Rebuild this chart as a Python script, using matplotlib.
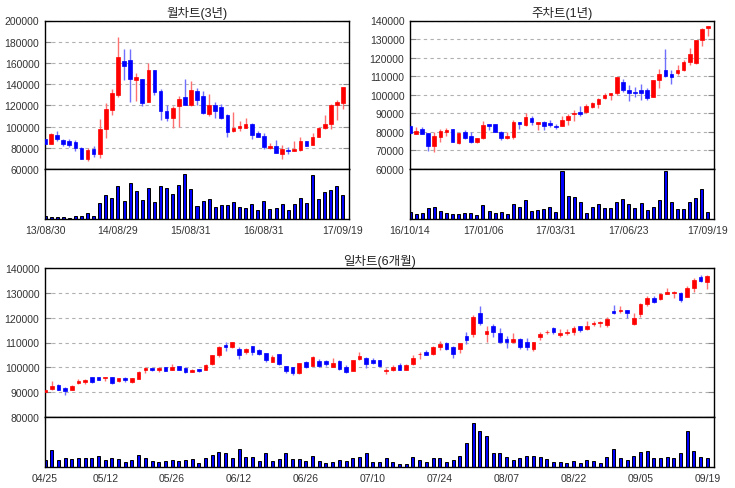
import matplotlib
matplotlib.use('Agg')
import matplotlib.pyplot as plt

plt.rcParams['font.family'] = ['Liberation Sans', 'Noto Sans CJK KR', 'DejaVu Sans']

# ---------------- Monthly (3 years) ----------------
m_title = '월차트(3년)'
m_tick_idx = [0, 12, 24, 36, 49]
m_tick_lab = ['13/08/30', '14/08/29', '15/08/31', '16/08/31', '17/09/19']
m_open = [88000, 84000, 92000, 87500, 86000, 85000, 80000, 69000, 79000, 74500,
          98000, 116000, 130000, 162000, 163000, 144000, 145000, 123500, 153000, 134000,
          115000, 108000, 119500, 128000, 120000, 133500, 128500, 112000, 120500, 118000,
          110500, 95500, 99000, 99000, 102500, 94000, 91000, 80000, 82000, 74500,
          77500, 76500, 77500, 86000, 83000, 90500, 99000, 102000, 120500, 122500]
m_close = [84000, 93000, 88000, 84000, 83000, 79500, 69000, 78000, 74500, 98000,
           117000, 131500, 165500, 157500, 145000, 147000, 122500, 153000, 133000, 115000,
           108000, 117500, 126000, 120500, 134500, 125500, 113000, 120500, 115000, 108500,
           95000, 99000, 101000, 102500, 92500, 90500, 80500, 82000, 75500, 78500,
           76800, 78500, 86000, 82000, 90500, 99000, 102000, 120500, 123000, 137500]
m_high = [88500, 94000, 96000, 88000, 88000, 87500, 80500, 80000, 82000, 107000,
          122000, 135500, 184000, 173500, 173500, 150500, 145000, 160000, 153000, 135500,
          120000, 119000, 128500, 145000, 143000, 136500, 133500, 131000, 123000, 121000,
          112000, 113500, 105500, 108500, 103000, 96000, 94000, 84500, 87000, 83000,
          80500, 86000, 90500, 86500, 93500, 100000, 110500, 121000, 125000, 137500]
m_low = [83500, 83500, 86000, 81500, 81000, 76500, 69000, 68000, 71000, 70000,
         89000, 110500, 128000, 143500, 123000, 124500, 119500, 123000, 129500, 106000,
         105000, 98500, 99500, 120000, 119500, 120000, 112000, 110000, 108000, 107500,
         90000, 95000, 95500, 98500, 88500, 90000, 78500, 78500, 75500, 69000,
         74000, 76500, 76500, 81500, 83000, 90500, 98000, 98000, 106000, 117000]
m_vol = [9, 6, 6, 6, 3, 10, 10, 18, 10, 49,
         72, 63, 99, 55, 108, 84, 57, 93, 52, 99,
         93, 75, 102, 135, 90, 39, 55, 60, 36, 42,
         42, 51, 36, 33, 45, 27, 54, 30, 33, 45,
         27, 45, 63, 48, 132, 60, 81, 87, 99, 72]
m_yticks = [60000, 80000, 100000, 120000, 140000, 160000, 180000, 200000]

# ---------------- Weekly (1 year) ----------------
w_title = '주차트(1년)'
w_tick_idx = [0, 12, 24, 36, 49]
w_tick_lab = ['16/10/14', '17/01/06', '17/03/31', '17/06/23', '17/09/19']
w_open = [83300, 79000, 81500, 79500, 72600, 77400, 79900, 81500, 74200, 79900,
          77900, 74700, 76800, 84200, 84200, 79900, 76800, 77400, 85300, 83600,
          87400, 84200, 85300, 84700, 83100, 83100, 86300, 89700, 90600, 90600,
          93300, 94900, 98100, 99800, 100800, 106700, 102400, 101400, 102400, 102400,
          98700, 107800, 113200, 111000, 111600, 113200, 117500, 116900, 129300, 135700]
w_close = [79200, 80400, 79000, 72600, 77900, 80400, 81000, 74700, 79500, 76800,
           74700, 76700, 83600, 83100, 79900, 76800, 77900, 85300, 84200, 88000,
           85300, 85300, 83100, 83600, 82800, 86300, 88500, 90100, 89500, 93800,
           95500, 97600, 99800, 100800, 109400, 102400, 100800, 100900, 100800, 98100,
           107800, 111000, 109900, 109400, 113200, 117500, 121800, 129300, 135200, 136800]
w_high = [83500, 82600, 82600, 79600, 80000, 81500, 82000, 81600, 79600, 81000,
          79900, 76800, 85800, 84300, 84300, 80400, 79900, 86300, 85400, 90100,
          88500, 85400, 85800, 86300, 84200, 88500, 89600, 91700, 93800, 94900,
          96000, 98100, 100800, 100900, 109500, 108300, 105100, 104000, 105700, 103500,
          107900, 113700, 124400, 113200, 115800, 118500, 125000, 129400, 135700, 137300]
w_low = [79000, 78600, 78900, 69900, 69300, 74700, 77900, 74600, 73600, 76300,
         74200, 74200, 76300, 81000, 79800, 75800, 76300, 76300, 81500, 83100,
         83600, 81000, 81000, 82600, 81500, 83000, 83800, 85800, 88500, 90100,
         92800, 92800, 97600, 97100, 100100, 101400, 96500, 98600, 97200, 97100,
         98600, 103500, 109400, 105700, 110500, 112600, 115800, 116800, 126000, 131400]
w_vol = [21, 15, 18, 33, 36, 24, 18, 15, 15, 18,
         18, 12, 42, 24, 18, 21, 15, 45, 36, 57,
         24, 27, 30, 36, 21, 145, 69, 66, 51, 18,
         36, 45, 33, 33, 51, 60, 45, 33, 48, 27,
         36, 57, 145, 51, 30, 30, 51, 63, 90, 21]
w_yticks = [60000, 70000, 80000, 90000, 100000, 110000, 120000, 130000, 140000]

# ---------------- Daily (6 months) ----------------
d_title = '일차트(6개월)'
d_tick_idx = [0, 9, 19, 29, 39, 49, 59, 69, 79, 89, 99]
d_tick_lab = ['04/25', '05/12', '05/26', '06/12', '06/26', '07/10',
              '07/24', '08/07', '08/22', '09/05', '09/19']
d_open = [90100, 91400, 93000, 91800, 91000, 93500, 93900, 96000, 96000, 95700,
          96000, 94400, 95600, 93900, 95300, 98900, 99700, 98900, 100100, 98900,
          100500, 99700, 98100, 99300, 99000, 101300, 104900, 109100, 108100, 107300,
          106100, 108500, 106900, 105700, 102100, 105300, 100500, 100100, 97700, 102100,
          100500, 102500, 102500, 100100, 102500, 100100, 98500, 103300, 103700, 102900,
          102900, 98700, 98900, 100900, 98900, 101300, 105200, 106100, 105300, 108100,
          109700, 108100, 107300, 112500, 113300, 121700, 113300, 116500, 113700, 111300,
          110100, 111300, 110100, 107300, 112100, 114200, 115700, 112900, 113800, 114100,
          116500, 115300, 117400, 117800, 116900, 122500, 122600, 122900, 117300, 121300,
          125700, 128100, 127700, 129700, 130100, 130100, 128500, 132100, 136500, 134500]
d_close = [91000, 92600, 91000, 90300, 92600, 94300, 95100, 93900, 95100, 96000,
           93600, 95600, 95100, 95600, 98100, 99700, 98900, 99700, 98600, 100100,
           98900, 98100, 98900, 98500, 100800, 104800, 108100, 108100, 110100, 104900,
           107300, 106100, 105300, 102900, 104100, 101300, 98500, 97700, 101700, 100100,
           104100, 100500, 101300, 101700, 99300, 98100, 102900, 104500, 101300, 101700,
           100500, 98900, 100100, 98900, 100900, 103700, 105400, 104900, 108100, 109300,
           107300, 105300, 109700, 110900, 120100, 117700, 114500, 114100, 110100, 110100,
           111300, 108100, 108100, 110100, 113300, 114400, 114100, 113700, 114100, 115700,
           114900, 116500, 117700, 118100, 119300, 121700, 122900, 121700, 119700, 125700,
           128100, 126500, 129700, 130500, 130500, 127300, 132100, 135300, 134900, 136900]
d_high = [91200, 94500, 93100, 92100, 92900, 95300, 95400, 96100, 96100, 96100,
          96300, 95700, 96000, 95800, 98400, 100000, 99900, 100000, 100200, 101400,
          100600, 100000, 99300, 99400, 101200, 105000, 108400, 110100, 110200, 108100,
          107700, 108600, 107300, 105800, 104900, 105400, 100600, 100200, 101800, 102500,
          104500, 103300, 102900, 103700, 102900, 100900, 103000, 106100, 104100, 103700,
          103000, 99700, 100900, 101700, 101300, 104900, 106100, 106900, 108400, 110500,
          110100, 108500, 110000, 114100, 120900, 124700, 116500, 117300, 115700, 112500,
          113700, 111700, 111700, 110200, 114100, 115200, 116100, 115300, 115300, 116500,
          116600, 118500, 118500, 118500, 120100, 124900, 124500, 123000, 121700, 126100,
          128900, 128900, 130100, 132100, 130800, 130200, 132900, 136100, 137300, 137000]
d_low = [89900, 91000, 90900, 89000, 90700, 93200, 93400, 93600, 94900, 94300,
         93200, 94000, 93900, 93700, 95200, 97600, 98500, 98100, 98500, 98800,
         98800, 97800, 98000, 98000, 98800, 101000, 104100, 106500, 107700, 103300,
         105300, 104900, 104900, 102100, 102000, 101100, 97700, 96900, 97300, 99700,
         100400, 100300, 100500, 100000, 98900, 97700, 98400, 102900, 99700, 101300,
         100000, 97500, 98500, 98800, 98800, 100900, 103300, 104800, 104900, 106900,
         107100, 103700, 105700, 109300, 112100, 116900, 110100, 112100, 109700, 107700,
         110000, 107300, 106900, 106500, 110900, 113300, 113300, 112100, 112900, 112900,
         114100, 115000, 116500, 116100, 116100, 121600, 121700, 119700, 117200, 120100,
         124500, 126100, 127300, 129600, 128100, 126500, 128300, 130500, 134500, 131700]
d_vol = [21, 51, 21, 27, 24, 27, 27, 27, 33, 21,
         27, 24, 15, 21, 36, 27, 18, 15, 18, 21,
         18, 21, 24, 12, 27, 36, 45, 42, 27, 54,
         30, 30, 18, 42, 18, 24, 42, 24, 24, 18,
         33, 18, 12, 15, 21, 18, 27, 30, 42, 15,
         15, 27, 15, 9, 9, 30, 21, 15, 27, 27,
         15, 21, 33, 72, 132, 108, 93, 42, 42, 30,
         21, 27, 33, 33, 30, 24, 15, 15, 12, 18,
         12, 21, 18, 12, 30, 54, 27, 21, 33, 45,
         48, 27, 27, 30, 27, 42, 108, 48, 30, 27]
d_yticks = [80000, 90000, 100000, 110000, 120000, 130000, 140000]

# ---------------- styling ----------------
UP, DOWN = '#ff0000', '#0000ff'
UP_W, DOWN_W = '#ff7070', '#7070ff'
GRID = '#b0b0b0'
TXT = '#333333'
FS = 7.5

W, H = 735, 489
fig = plt.figure(figsize=(W / 100, H / 100), dpi=100)


def add_axes(x0, x1, y0, y1):
    return fig.add_axes([x0 / W, 1 - y1 / H, (x1 - x0) / W, (y1 - y0) / H])


def draw(ax_p, ax_v, o, h, l, c, v, yticks, tick_idx, tick_lab, title, bw, vw):
    n = len(o)
    xs = list(range(n))
    for i in xs:
        up = c[i] >= o[i]
        col = UP if up else DOWN
        wcol = UP_W if up else DOWN_W
        ax_p.vlines(i, l[i], h[i], color=wcol, linewidth=1.0, zorder=2)
        ax_p.bar(i, abs(c[i] - o[i]), bottom=min(o[i], c[i]), width=bw,
                 color=col, edgecolor=col, linewidth=0.5, zorder=3)
    ax_p.set_xlim(0, n)
    ax_p.set_ylim(yticks[0], yticks[-1])
    ax_p.set_yticks(yticks)
    ax_p.set_yticklabels([str(t) for t in yticks])
    ax_p.grid(axis='y', color=GRID, linestyle=(0, (3, 3)), linewidth=0.8, zorder=0)
    ax_p.set_axisbelow(True)
    ax_p.tick_params(axis='y', direction='in', length=4, width=0.8, color='#888888',
                     left=True, right=True, labelsize=FS, labelcolor=TXT, pad=4)
    ax_p.set_xticks(tick_idx)
    ax_p.tick_params(axis='x', direction='out', length=4, width=0.8, color='#888888',
                     labelbottom=False)
    ax_p.set_title(title, fontsize=9, pad=3, color='#222222')

    ax_v.bar(xs, v, width=vw, color=DOWN, edgecolor='black', linewidth=0.7, zorder=2)
    ax_v.set_xlim(0, n)
    ax_v.set_ylim(0, 150)
    ax_v.set_yticks([])
    ax_v.set_xticks(tick_idx)
    ax_v.set_xticklabels(tick_lab)
    ax_v.tick_params(axis='x', length=0, pad=4, labelsize=FS, labelcolor=TXT)
    for ax in (ax_p, ax_v):
        for s in ax.spines.values():
            s.set_linewidth(1.0)
            s.set_color('black')


ap1 = add_axes(45, 349, 21.5, 170)
av1 = add_axes(45, 349, 170, 220)
draw(ap1, av1, m_open, m_high, m_low, m_close, m_vol, m_yticks,
     m_tick_idx, m_tick_lab, m_title, 0.6, 0.5)

ap2 = add_axes(410, 714, 21.5, 170)
av2 = add_axes(410, 714, 170, 220)
draw(ap2, av2, w_open, w_high, w_low, w_close, w_vol, w_yticks,
     w_tick_idx, w_tick_lab, w_title, 0.6, 0.5)

ap3 = add_axes(45, 714, 269, 418)
av3 = add_axes(45, 714, 418, 468)
draw(ap3, av3, d_open, d_high, d_low, d_close, d_vol, d_yticks,
     d_tick_idx, d_tick_lab, d_title, 0.55, 0.45)

fig.savefig('out.png', dpi=100, facecolor='white')
